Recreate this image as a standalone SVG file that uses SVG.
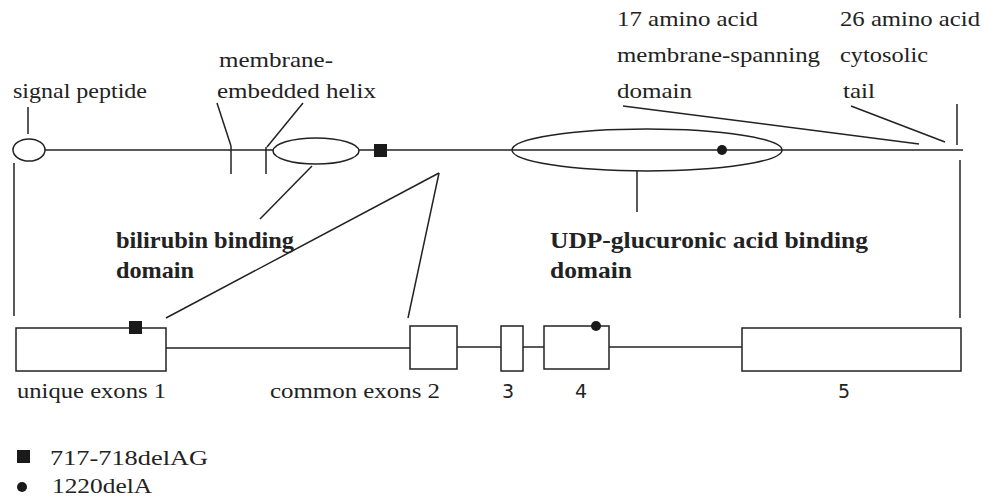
<svg xmlns="http://www.w3.org/2000/svg" width="982" height="498" viewBox="0 0 982 498">
<style>
.ln{stroke:#222;stroke-width:1.5;fill:none}
.sh{stroke:#222;stroke-width:1.5;fill:#fff}
.t{font-family:"Liberation Serif",serif;font-size:21px;fill:#222}
.b{font-family:"Liberation Serif",serif;font-size:24px;font-weight:bold;fill:#222}
.d{font-family:"DejaVu Sans","Liberation Sans",sans-serif;font-size:19px;fill:#222}
.m{fill:#1a1a1a}
</style>
<rect width="982" height="498" fill="#fff"/>
<g id="connectors">
<line class="ln" x1="44" y1="150" x2="963" y2="150"/>
<line class="ln" x1="28" y1="107" x2="28" y2="134"/>
<line class="ln" x1="14" y1="163" x2="14" y2="316"/>
<line class="ln" x1="231" y1="146" x2="231" y2="174"/>
<line class="ln" x1="266" y1="147" x2="266" y2="174"/>
<line class="ln" x1="217" y1="103" x2="231" y2="146"/>
<line class="ln" x1="303" y1="103" x2="267" y2="147"/>
<line class="ln" x1="312" y1="166" x2="260" y2="219"/>
<line class="ln" x1="439" y1="173" x2="166" y2="318"/>
<line class="ln" x1="439" y1="173" x2="408" y2="318"/>
<line class="ln" x1="637" y1="171" x2="637" y2="212"/>
<line class="ln" x1="623" y1="106" x2="919" y2="144"/>
<line class="ln" x1="851" y1="106" x2="945" y2="142"/>
<line class="ln" x1="957" y1="104" x2="957" y2="145"/>
<line class="ln" x1="960" y1="160" x2="960" y2="318"/>
<line class="ln" x1="166" y1="348" x2="410" y2="348"/>
<line class="ln" x1="457" y1="347" x2="501" y2="347"/>
<line class="ln" x1="523" y1="347" x2="544" y2="347"/>
<line class="ln" x1="609" y1="347" x2="742" y2="347"/>
</g>
<g id="signal-peptide">
<ellipse class="sh" cx="29" cy="150" rx="16" ry="11"/>
<text class="t" x="13" y="98" textLength="134" lengthAdjust="spacingAndGlyphs">signal peptide</text>
</g>
<g id="membrane-helix">
<text class="t" x="219" y="67" textLength="114" lengthAdjust="spacingAndGlyphs">membrane-</text>
<text class="t" x="217" y="98" textLength="159" lengthAdjust="spacingAndGlyphs">embedded helix</text>
</g>
<g id="bilirubin-domain">
<ellipse class="sh" cx="316" cy="151" rx="43" ry="13"/>
<text class="b" x="116" y="248" textLength="178" lengthAdjust="spacingAndGlyphs">bilirubin binding</text>
<text class="b" x="116" y="278" textLength="78" lengthAdjust="spacingAndGlyphs">domain</text>
</g>
<g id="mutation-square">
<rect class="m" x="374" y="144" width="13" height="13"/>
</g>
<g id="udp-domain">
<ellipse class="ln" cx="647" cy="150" rx="135" ry="21"/>
<circle class="m" cx="722" cy="150" r="5"/>
<text class="b" x="550" y="248" textLength="318" lengthAdjust="spacingAndGlyphs">UDP-glucuronic acid binding</text>
<text class="b" x="550" y="278" textLength="82" lengthAdjust="spacingAndGlyphs">domain</text>
</g>
<g id="spanning-domain">
<text class="t" x="617" y="26" textLength="141" lengthAdjust="spacingAndGlyphs">17 amino acid</text>
<text class="t" x="617" y="62" textLength="203" lengthAdjust="spacingAndGlyphs">membrane-spanning</text>
<text class="t" x="617" y="98" textLength="75" lengthAdjust="spacingAndGlyphs">domain</text>
</g>
<g id="cytosolic-tail">
<text class="t" x="840" y="26" textLength="140" lengthAdjust="spacingAndGlyphs">26 amino acid</text>
<text class="t" x="840" y="62" textLength="88" lengthAdjust="spacingAndGlyphs">cytosolic</text>
<text class="t" x="843" y="98" textLength="32" lengthAdjust="spacingAndGlyphs">tail</text>
</g>
<g id="exon1">
<rect class="sh" x="16" y="328" width="150" height="43"/>
<rect class="m" x="129" y="321" width="13" height="13"/>
<text class="t" x="17" y="398" textLength="149" lengthAdjust="spacingAndGlyphs">unique exons 1</text>
</g>
<g id="exon2">
<rect class="sh" x="410" y="326" width="47" height="43"/>
<text class="t" x="270" y="398" textLength="170" lengthAdjust="spacingAndGlyphs">common exons 2</text>
</g>
<g id="exon3">
<rect class="sh" x="501" y="326" width="22" height="45"/>
<text class="d" x="508" y="398" text-anchor="middle">3</text>
</g>
<g id="exon4">
<rect class="sh" x="544" y="326" width="65" height="43"/>
<circle class="m" cx="596" cy="326" r="5"/>
<text class="d" x="581" y="398" text-anchor="middle">4</text>
</g>
<g id="exon5">
<rect class="sh" x="742" y="328" width="219" height="43"/>
<text class="d" x="844" y="398" text-anchor="middle">5</text>
</g>
<g id="legend">
<rect class="m" x="17" y="450" width="13" height="13"/>
<text class="t" x="50" y="465" textLength="158" lengthAdjust="spacingAndGlyphs">717-718delAG</text>
<circle class="m" cx="22" cy="487" r="5"/>
<text class="t" x="52" y="493" textLength="100" lengthAdjust="spacingAndGlyphs">1220delA</text>
</g>
</svg>
